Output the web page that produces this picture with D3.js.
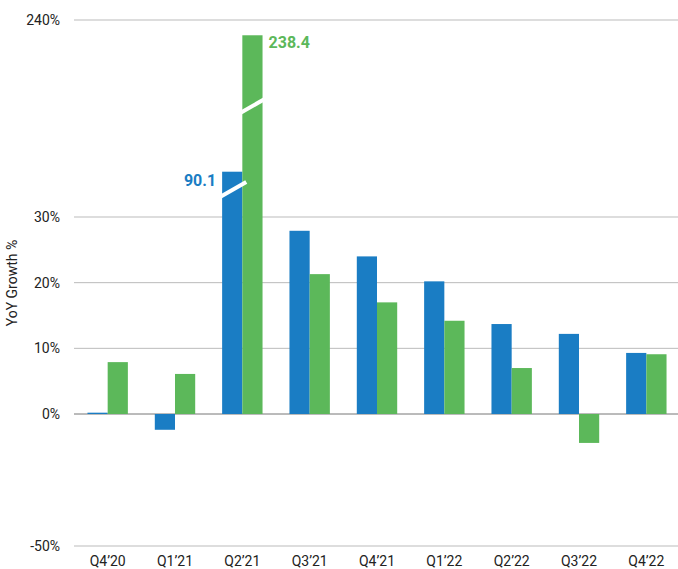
<!DOCTYPE html>
<html><head><meta charset="utf-8">
<script src="https://cdn.jsdelivr.net/npm/d3@7"></script>
<style>body{margin:0;background:#fff;font-family:Roboto,sans-serif}</style>
</head><body><svg id="chart" width="678" height="569"></svg>
<script>
var quarters = ["Q4\u201920","Q1\u201921","Q2\u201921","Q3\u201921","Q4\u201921","Q1\u201922","Q2\u201922","Q3\u201922","Q4\u201922"];
var blueVals = [0.2, -2.4, 90.1, 27.9, 24.0, 20.2, 13.7, 12.2, 9.3];
var greenVals = [7.9, 6.1, 238.4, 21.3, 17.0, 14.2, 7.0, -4.4, 9.1];
var tickVals = [240, 30, 20, 10, 0, -50];

var svg = d3.select("#chart");
var blue = "#1a7dc4", green = "#5cb85a";

// broken axis: piecewise scale, top label sits on the top line
var y = d3.scaleLinear().domain([-50, -15, 0, 30, 80, 255]).range([546, 512.6, 414, 217, 181, 20]);
var x = d3.scaleBand().domain(quarters).range([74, 680]).paddingInner(0.4).paddingOuter(0.2);

function yTick(d){ return d == 240 ? 20 : y(d); }

svg.selectAll(".grid").data(tickVals).enter().append("line")
  .attr("x1", 74).attr("x2", 678)
  .attr("y1", yTick).attr("y2", yTick)
  .attr("stroke", function(d){ return d == 0 ? "#777" : "#bbb"; }).attr("stroke-width", 1);

svg.selectAll(".ylab").data(tickVals).enter().append("text")
  .attr("x", 60).attr("y", function(d){ return yTick(d) + 5; })
  .attr("text-anchor", "end").attr("font-size", 14).attr("fill", "#222")
  .text(function(d){ return d + "%"; });

svg.append("text").attr("transform", "translate(17,283) rotate(-90)")
  .attr("text-anchor", "middle").attr("font-size", 14).attr("fill", "#222").text("YoY Growth %");

var bw = x.bandwidth() / 2;
function bars(vals, col, off){
  svg.selectAll(null).data(vals).enter().append("rect")
    .attr("x", function(d, i){ return x(quarters[i]) + off; })
    .attr("width", bw)
    .attr("y", function(d){ return Math.min(y(d), y(0)); })
    .attr("height", function(d){ return Math.max(Math.abs(y(d) - y(0)), 1); })
    .attr("fill", col);
}
bars(blueVals, blue, 0);
bars(greenVals, green, bw);

// break marks on Q2'21
function brk(cx, cy){
  svg.append("path").attr("d", "M" + (cx - 14) + "," + (cy + 8) + "L" + (cx + 14) + "," + (cy - 8))
    .attr("stroke", "#fff").attr("stroke-width", 4).attr("fill", "none");
}
var q = x("Q2\u201921");
brk(q + bw / 2, 190);
brk(q + bw * 1.5, 106);

svg.append("text").attr("x", q - 6).attr("y", y(90.1) + 14).attr("text-anchor", "end")
  .attr("font-size", 16).attr("font-weight", "bold").attr("fill", blue).text("90.1");
svg.append("text").attr("x", q + 2 * bw + 6).attr("y", y(238.4) + 13)
  .attr("font-size", 16).attr("font-weight", "bold").attr("fill", green).text("238.4");

svg.selectAll(".xlab").data(quarters).enter().append("text")
  .attr("x", function(d){ return x(d) + x.bandwidth() / 2; }).attr("y", 566)
  .attr("text-anchor", "middle").attr("font-size", 14).attr("fill", "#222")
  .text(function(d){ return d; });
</script></body></html>
